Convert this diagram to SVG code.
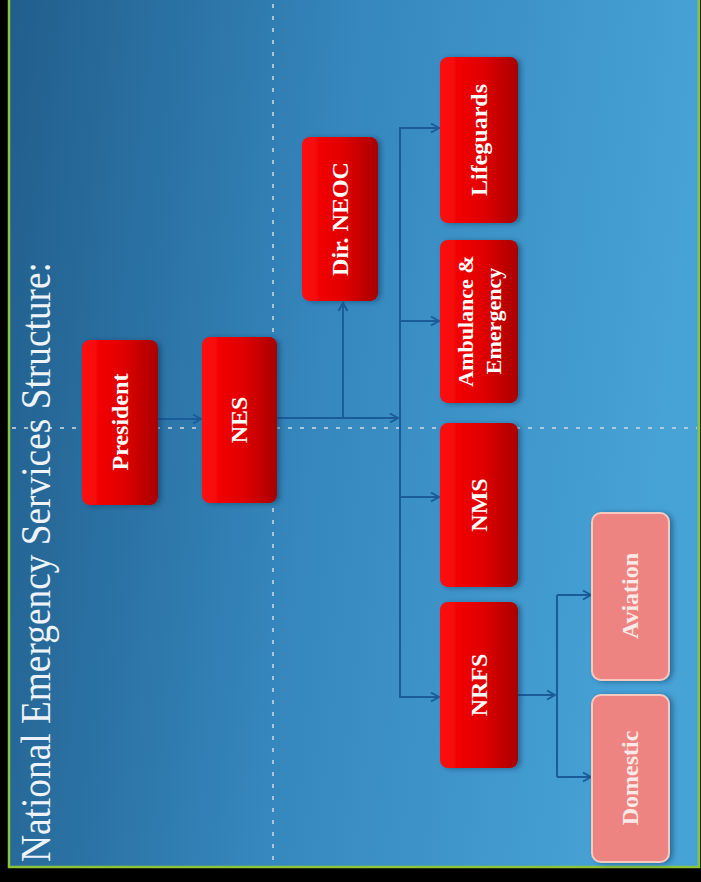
<svg xmlns="http://www.w3.org/2000/svg" width="701" height="882" viewBox="0 0 701 882">
<defs>
<linearGradient id="bg" x1="0" y1="0" x2="1" y2="0.15">
<stop offset="0" stop-color="#215e8c"/>
<stop offset="0.5" stop-color="#3587bd"/>
<stop offset="1" stop-color="#47a2d6"/>
</linearGradient>
<linearGradient id="red" x1="0" y1="0" x2="1" y2="0">
<stop offset="0" stop-color="#ff0a0a"/>
<stop offset="0.55" stop-color="#e00000"/>
<stop offset="1" stop-color="#a80000"/>
</linearGradient>
<filter id="sh" x="-20%" y="-20%" width="150%" height="140%">
<feDropShadow dx="3" dy="1" stdDeviation="2.5" flood-color="#0a2a4a" flood-opacity="0.45"/>
</filter>
<marker id="ah" markerUnits="userSpaceOnUse" markerWidth="12" markerHeight="12" refX="10" refY="6" orient="auto">
<path d="M2,1.5 L10,6 L2,10.5" fill="none" stroke="#1a5c99" stroke-width="2"/>
</marker>
<style>
.red{fill:url(#red);filter:url(#sh)}
.pink{fill:#ee8482;stroke:#f6c9c0;stroke-width:2;filter:url(#sh)}
.lbl{font-family:"Liberation Serif",serif;fill:#ffffff;font-size:24px;font-weight:bold;text-anchor:middle;dominant-baseline:central}
.pl{fill:#fbe9e6}
.con{fill:none;stroke:#1a5c99;stroke-width:2}
.arr{marker-end:url(#ah)}
.guide{stroke:#c9d6dc;stroke-width:2;stroke-dasharray:4 8;fill:none;opacity:0.8}
</style>
</defs>
<rect x="0" y="0" width="701" height="882" fill="#000"/>
<rect x="9" y="-2" width="690" height="869" fill="url(#bg)" stroke="#8cc43c" stroke-width="2.5"/>
<g id="guides">
<line class="guide" x1="273" y1="4" x2="273" y2="864"/>
<line class="guide" x1="12" y1="428" x2="697" y2="428"/>
</g>
<g id="title">
<text transform="translate(50,862) rotate(-90)" font-family="Liberation Serif, serif" font-size="42" fill="#eef3f7" textLength="600" lengthAdjust="spacingAndGlyphs">National Emergency Services Structure:</text>
</g>
<g id="connectors">
<line class="con arr" x1="158" y1="419" x2="201" y2="419"/>
<line class="con arr" x1="277" y1="418" x2="398" y2="418"/>
<line class="con arr" x1="343" y1="418" x2="343" y2="303"/>
<line class="con" x1="400" y1="127" x2="400" y2="698"/>
<line class="con arr" x1="400" y1="128" x2="439" y2="128"/>
<line class="con arr" x1="400" y1="321" x2="439" y2="321"/>
<line class="con arr" x1="400" y1="497" x2="439" y2="497"/>
<line class="con arr" x1="400" y1="697" x2="439" y2="697"/>
<line class="con arr" x1="518" y1="695" x2="555" y2="695"/>
<line class="con" x1="557" y1="595" x2="557" y2="777"/>
<line class="con arr" x1="557" y1="595" x2="591" y2="595"/>
<line class="con arr" x1="557" y1="777" x2="591" y2="777"/>
</g>
<g id="president">
<rect class="red" x="82" y="340" width="76" height="165" rx="8"/>
<text class="lbl" transform="translate(120,422) rotate(-90)">President</text>
</g>
<g id="nes">
<rect class="red" x="202" y="337" width="75" height="166" rx="8"/>
<text class="lbl" transform="translate(239,420) rotate(-90)">NES</text>
</g>
<g id="dir-neoc">
<rect class="red" x="302" y="137" width="76" height="164" rx="8"/>
<text class="lbl" transform="translate(340,219) rotate(-90)">Dir. NEOC</text>
</g>
<g id="lifeguards">
<rect class="red" x="440" y="57" width="78" height="166" rx="8"/>
<text class="lbl" transform="translate(479,140) rotate(-90)">Lifeguards</text>
</g>
<g id="ambulance">
<rect class="red" x="440" y="240" width="78" height="163" rx="8"/>
<text class="lbl" transform="translate(479,321) rotate(-90)" style="font-size:22px"><tspan x="0" y="-14">Ambulance &amp;</tspan><tspan x="0" y="14">Emergency</tspan></text>
</g>
<g id="nms">
<rect class="red" x="440" y="423" width="78" height="164" rx="8"/>
<text class="lbl" transform="translate(479,505) rotate(-90)">NMS</text>
</g>
<g id="nrfs">
<rect class="red" x="440" y="602" width="78" height="166" rx="8"/>
<text class="lbl" transform="translate(479,685) rotate(-90)">NRFS</text>
</g>
<g id="aviation">
<rect class="pink" x="592" y="513" width="77" height="167" rx="9"/>
<text class="lbl pl" transform="translate(630,596) rotate(-90)">Aviation</text>
</g>
<g id="domestic">
<rect class="pink" x="592" y="695" width="77" height="167" rx="9"/>
<text class="lbl pl" transform="translate(630,778) rotate(-90)">Domestic</text>
</g>
</svg>
